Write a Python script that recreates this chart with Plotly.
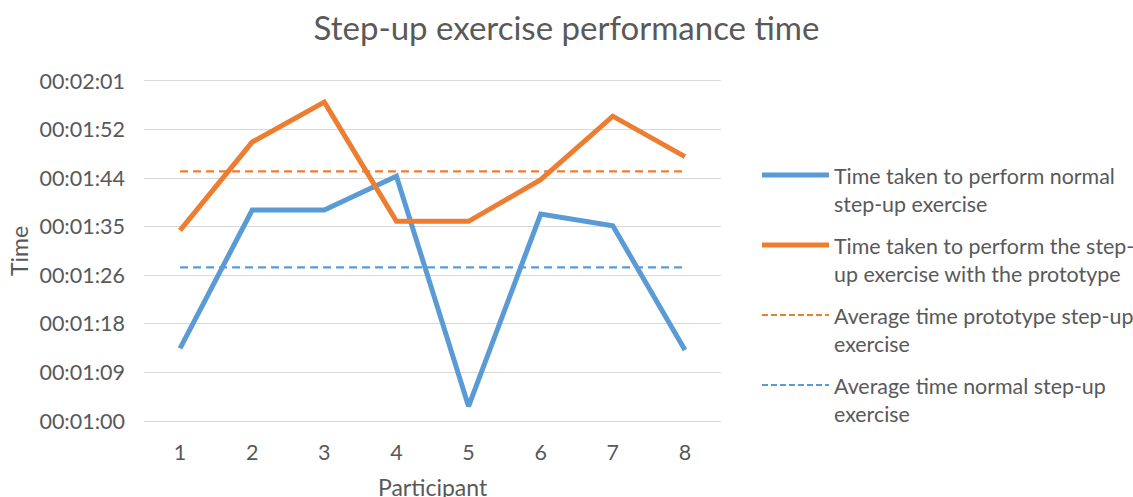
import plotly.graph_objects as go

# Participants and recorded times (seconds)
participants = [1, 2, 3, 4, 5, 6, 7, 8]
normal_times = [73.4, 98.0, 98.0, 104.0, 63.1, 97.3, 95.2, 73.1]
prototype_times = [94.4, 110.1, 117.2, 96.0, 96.0, 103.4, 114.7, 107.5]
avg_prototype = 104.9
avg_normal = 87.8

# Y axis ticks (Excel day-fraction steps of 0.0001 day = 8.64 s)
y_tick_vals = [60.48, 69.12, 77.76, 86.40, 95.04, 103.68, 112.32, 120.96]
y_tick_text = ["00:01:00", "00:01:09", "00:01:18", "00:01:26",
               "00:01:35", "00:01:44", "00:01:52", "00:02:01"]

legend_labels = [
    "Time taken to perform normal<br>step-up exercise",
    "Time taken to perform the step-<br>up exercise with the prototype",
    "Average time prototype step-up<br>exercise",
    "Average time normal step-up<br>exercise",
]

BLUE = "#5B9BD5"
ORANGE = "#ED7D31"
TEXT = "#595959"
GRID = "#D9D9D9"
FONT = "Lato"

W, H = 1133, 497
ML, MR, MT, MB = 144, 412, 81, 76
PW = W - ML - MR
PH = H - MT - MB


def fx(px):
    return (px - ML) / PW


def fy(py):
    return 1 - (py - MT) / PH


fig = go.Figure()
fig.add_trace(go.Scatter(x=participants, y=normal_times, mode="lines",
                         line=dict(color=BLUE, width=5)))
fig.add_trace(go.Scatter(x=participants, y=prototype_times, mode="lines",
                         line=dict(color=ORANGE, width=5)))
fig.add_trace(go.Scatter(x=participants, y=[avg_prototype] * len(participants),
                         mode="lines",
                         line=dict(color=ORANGE, width=2.2, dash="8px,5px")))
fig.add_trace(go.Scatter(x=participants, y=[avg_normal] * len(participants),
                         mode="lines",
                         line=dict(color=BLUE, width=2.2, dash="8px,5px")))

# Legend drawn to the right of the plot
legend_styles = [
    dict(color=BLUE, width=5),
    dict(color=ORANGE, width=5),
    dict(color=ORANGE, width=2.2, dash="6px,3px"),
    dict(color=BLUE, width=2.2, dash="6px,3px"),
]
legend_rows = [175, 245, 315, 385]
shapes = []
annotations = []
for label, style, row in zip(legend_labels, legend_styles, legend_rows):
    shapes.append(dict(type="line", xref="paper", yref="paper",
                       x0=fx(762), x1=fx(829), y0=fy(row), y1=fy(row),
                       line=style))
    annotations.append(dict(text=label, xref="paper", yref="paper",
                            x=fx(832), y=fy(row - 14), xanchor="left",
                            yanchor="top", align="left", showarrow=False,
                            font=dict(family=FONT, size=21.4, color=TEXT)))

annotations.append(dict(text="Time", xref="paper", yref="paper",
                        x=fx(19), y=fy(251), textangle=-90,
                        xanchor="center", yanchor="middle", showarrow=False,
                        font=dict(family=FONT, size=23, color=TEXT)))
annotations.append(dict(text="Participant", xref="paper", yref="paper",
                        x=fx(433), y=fy(487), xanchor="center",
                        yanchor="middle", showarrow=False,
                        font=dict(family=FONT, size=23, color=TEXT)))

fig.update_layout(
    width=W, height=H,
    margin=dict(l=ML, r=MR, t=MT, b=MB),
    paper_bgcolor="white", plot_bgcolor="white",
    showlegend=False,
    title=dict(text="Step-up exercise performance time", xref="container",
               x=0.5, xanchor="center", y=1 - 28 / H, yanchor="middle",
               font=dict(family=FONT, size=33, color=TEXT)),
    shapes=shapes,
    annotations=annotations,
    xaxis=dict(range=[0.5, 8.5], tickvals=participants,
               ticktext=[str(p) for p in participants],
               showgrid=False, zeroline=False, ticks="",
               showline=True, linecolor=GRID, linewidth=1, mirror=True,
               ticklabelstandoff=12,
               tickfont=dict(family=FONT, size=21.5, color=TEXT)),
    yaxis=dict(range=[y_tick_vals[0], y_tick_vals[-1]], tickvals=y_tick_vals,
               ticktext=y_tick_text, showgrid=True, gridcolor=GRID,
               gridwidth=1, zeroline=False, ticks="", showline=False,
               ticklabelstandoff=18,
               tickfont=dict(family=FONT, size=21.5, color=TEXT)),
)

fig.write_html("out.html")
